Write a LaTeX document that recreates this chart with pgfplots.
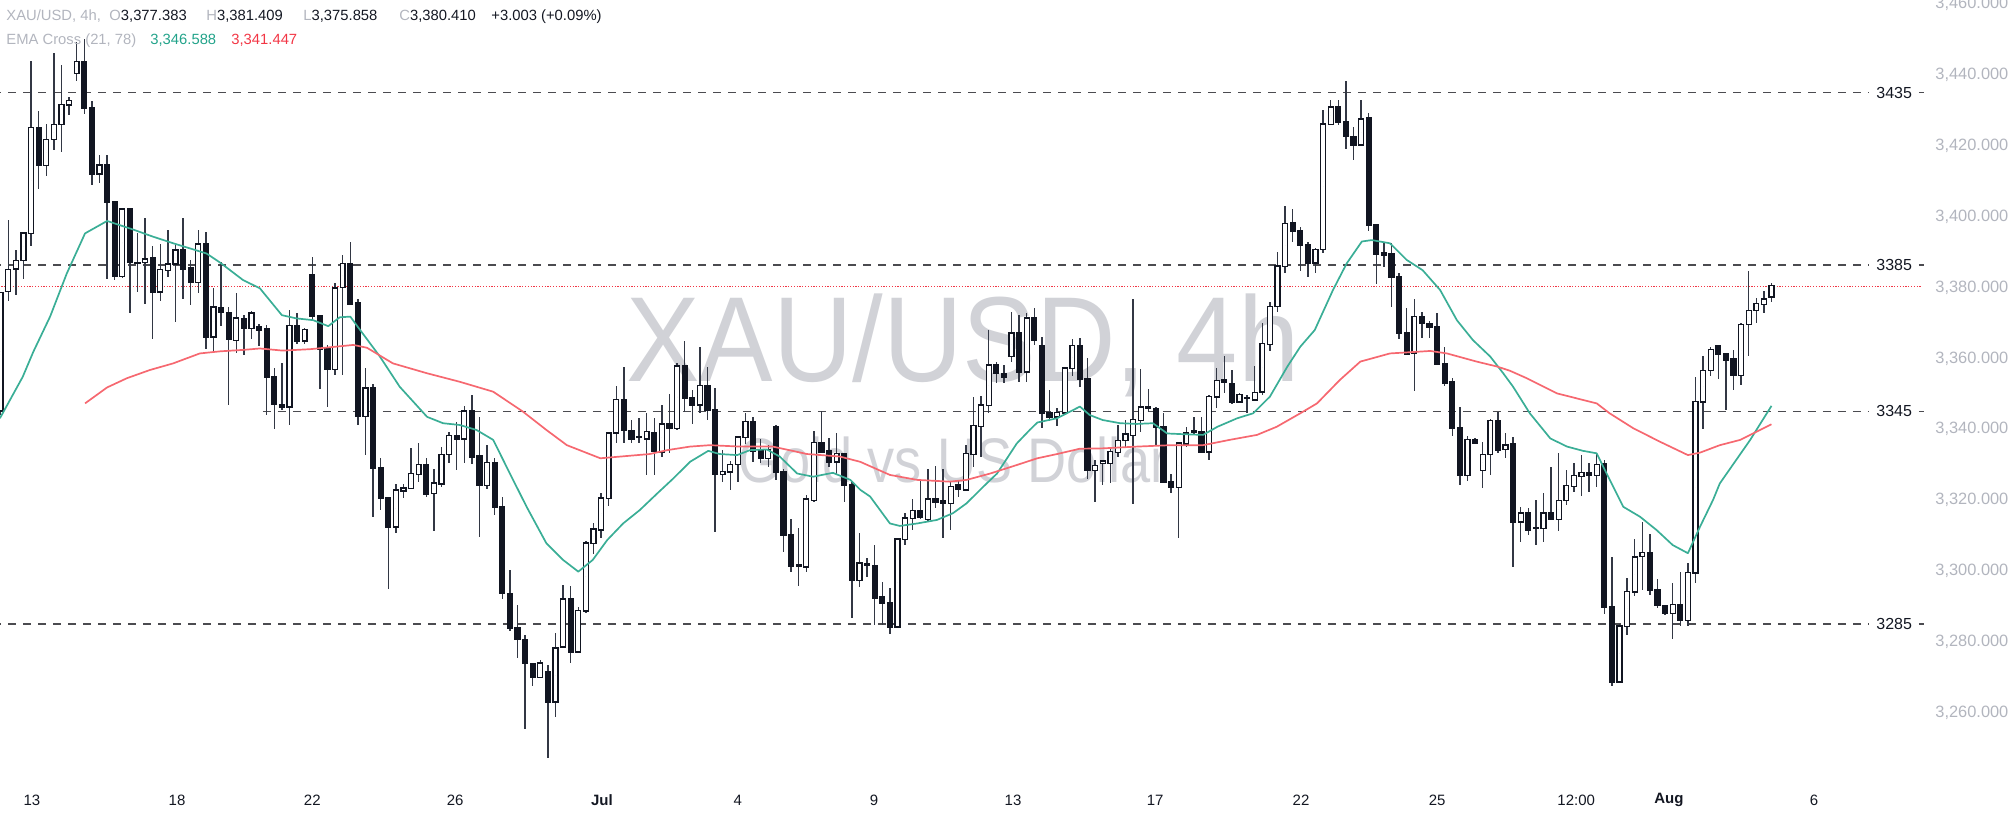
\documentclass[border=0pt]{standalone}
\usepackage{fontspec}
\setmainfont{Liberation Sans}
\usepackage{graphicx}
\usepackage{pgfplots}
\usepackage{pgfplotstable}
\pgfplotsset{compat=1.18}

\definecolor{body}{RGB}{17,21,33}
\definecolor{wick}{RGB}{50,55,68}
\definecolor{emagreen}{RGB}{58,174,150}
\definecolor{emared}{RGB}{246,104,112}
\definecolor{lg}{RGB}{178,181,190}
\definecolor{dk}{RGB}{19,23,34}
\definecolor{tealtxt}{RGB}{34,163,138}
\definecolor{redtxt}{RGB}{242,54,69}
\definecolor{wmark}{RGB}{209,210,215}
\definecolor{hline}{RGB}{75,75,80}

% 4h candles: index, open, high, low, close
\pgfplotstableread{
i o h l c
0 3345.2 3378.5 3344.0 3378.5
1 3379.0 3399.2 3376.1 3385.0
2 3385.4 3390.7 3377.9 3387.6
3 3387.8 3395.8 3382.4 3395.3
4 3395.4 3444.0 3391.7 3425.1
5 3425.1 3429.9 3407.9 3414.5
6 3414.5 3426.1 3411.4 3421.7
7 3421.9 3446.3 3418.9 3425.9
8 3426.1 3442.9 3418.4 3431.6
9 3431.7 3433.9 3428.6 3432.7
10 3440.6 3449.3 3438.2 3443.7
11 3443.8 3450.2 3428.9 3430.8
12 3430.8 3432.7 3409.0 3412.2
13 3412.2 3417.4 3409.5 3414.5
14 3414.7 3417.4 3382.3 3404.1
15 3404.1 3404.4 3382.1 3383.2
16 3383.2 3402.4 3382.7 3402.1
17 3402.3 3402.4 3372.9 3387.2
18 3386.9 3395.4 3378.7 3387.0
19 3387.2 3399.6 3375.5 3388.0
20 3388.2 3391.7 3365.5 3378.7
21 3378.8 3392.2 3376.1 3385.0
22 3385.0 3396.3 3383.0 3386.6
23 3386.7 3392.2 3370.3 3390.5
24 3390.5 3399.6 3376.8 3385.4
25 3385.4 3387.8 3375.0 3381.5
26 3381.5 3396.2 3378.5 3392.2
27 3392.2 3395.6 3362.6 3366.2
28 3366.2 3379.8 3361.9 3374.4
29 3374.3 3387.3 3369.1 3373.0
30 3372.9 3374.6 3346.8 3365.4
31 3365.2 3378.4 3361.6 3371.3
32 3371.1 3372.2 3361.0 3368.5
33 3368.5 3373.5 3365.4 3372.7
34 3368.8 3369.7 3363.5 3368.0
35 3368.2 3369.4 3344.0 3354.8
36 3354.8 3357.2 3340.0 3347.1
37 3346.8 3358.6 3345.4 3346.2
38 3346.4 3373.8 3341.2 3369.2
39 3369.0 3372.9 3364.1 3365.0
40 3365.0 3368.5 3364.1 3368.0
41 3383.5 3388.5 3370.7 3372.0
42 3372.0 3372.2 3351.3 3362.6
43 3362.6 3363.8 3346.4 3356.9
44 3356.9 3381.4 3355.3 3379.8
45 3380.1 3389.2 3355.3 3386.7
46 3386.7 3393.0 3375.1 3375.5
47 3375.7 3376.7 3341.2 3343.7
48 3343.7 3357.2 3332.7 3351.6
49 3351.6 3352.8 3315.3 3329.0
50 3329.0 3331.8 3317.2 3320.5
51 3320.5 3320.5 3294.8 3312.5
52 3312.5 3324.5 3310.6 3322.7
53 3322.7 3324.5 3320.5 3323.3
54 3323.3 3334.6 3323.3 3327.4
55 3327.4 3336.2 3325.2 3329.9
56 3329.9 3331.8 3320.8 3321.7
57 3321.9 3328.7 3311.4 3324.7
58 3324.7 3335.1 3323.6 3332.7
59 3333.0 3339.3 3330.6 3338.1
60 3338.1 3342.1 3328.5 3337.4
61 3337.4 3346.6 3330.4 3345.1
62 3345.1 3349.7 3330.2 3332.3
63 3332.3 3343.4 3309.5 3324.3
64 3324.3 3335.5 3323.0 3330.6
65 3330.6 3331.8 3315.8 3318.1
66 3318.0 3321.0 3292.0 3293.7
67 3293.5 3300.3 3282.9 3283.8
68 3283.8 3290.4 3275.3 3280.7
69 3280.5 3281.9 3255.3 3273.9
70 3273.7 3273.9 3267.5 3270.0
71 3270.0 3274.9 3269.7 3273.9
72 3271.5 3273.4 3247.1 3263.1
73 3263.1 3282.4 3258.7 3278.1
74 3278.6 3296.0 3278.1 3292.0
75 3292.0 3295.7 3273.9 3277.2
76 3277.2 3289.9 3277.2 3288.8
77 3288.8 3308.5 3288.2 3307.8
78 3307.8 3313.6 3304.8 3311.7
79 3311.7 3321.9 3309.2 3320.5
80 3320.5 3339.3 3318.3 3338.8
81 3339.0 3352.2 3336.2 3348.3
82 3348.3 3357.5 3336.2 3339.8
83 3339.5 3342.6 3336.2 3337.4
84 3337.7 3343.1 3336.2 3337.7
85 3337.4 3344.5 3327.0 3339.3
86 3339.0 3343.1 3327.1 3333.9
87 3333.7 3346.9 3332.3 3341.4
88 3341.4 3350.1 3333.2 3340.5
89 3340.3 3358.8 3339.8 3357.7
90 3357.7 3365.0 3345.0 3348.7
91 3348.7 3351.1 3341.5 3346.9
92 3346.9 3363.1 3344.5 3352.2
93 3352.2 3357.7 3342.6 3345.4
94 3345.3 3351.6 3311.1 3327.4
95 3327.4 3334.1 3325.2 3328.0
96 3328.0 3331.1 3322.9 3329.9
97 3330.2 3338.1 3325.2 3337.7
98 3337.7 3344.5 3335.8 3342.1
99 3342.1 3343.4 3330.9 3333.9
100 3333.9 3337.2 3330.4 3331.8
101 3331.8 3335.5 3329.4 3334.1
102 3340.7 3341.2 3325.7 3328.0
103 3328.0 3328.7 3305.4 3310.2
104 3310.2 3314.6 3299.8 3301.4
105 3301.6 3312.0 3295.7 3301.4
106 3301.2 3321.4 3299.8 3320.2
107 3320.0 3339.6 3319.6 3336.2
108 3336.2 3345.3 3333.4 3333.7
109 3333.9 3337.4 3329.2 3330.8
110 3330.8 3338.8 3327.1 3333.0
111 3333.0 3333.4 3319.6 3324.3
112 3324.3 3325.2 3286.6 3297.4
113 3297.4 3310.6 3295.6 3302.1
114 3302.0 3303.6 3298.4 3301.8
115 3301.5 3307.3 3284.7 3292.5
116 3292.5 3297.0 3284.7 3291.0
117 3291.0 3295.1 3282.2 3284.1
118 3284.3 3309.2 3284.3 3308.9
119 3308.9 3316.3 3307.3 3314.9
120 3314.9 3320.2 3311.5 3317.0
121 3316.9 3325.7 3314.8 3315.1
122 3314.6 3328.7 3313.9 3320.2
123 3320.2 3329.6 3317.7 3319.5
124 3319.8 3328.7 3309.2 3319.1
125 3319.1 3325.2 3311.6 3323.8
126 3324.1 3325.7 3321.0 3323.1
127 3323.0 3335.6 3322.7 3333.0
128 3333.0 3349.0 3329.3 3340.9
129 3340.9 3349.4 3332.1 3346.8
130 3346.8 3368.0 3344.5 3358.0
131 3358.0 3359.1 3353.1 3355.8
132 3355.6 3358.1 3353.0 3354.7
133 3360.7 3373.2 3359.1 3367.1
134 3367.1 3372.3 3353.4 3356.3
135 3356.3 3372.7 3353.4 3371.3
136 3371.3 3374.1 3363.8 3365.2
137 3363.5 3366.0 3340.3 3344.5
138 3344.5 3351.1 3342.4 3343.4
139 3343.6 3345.9 3340.9 3344.7
140 3344.7 3357.7 3344.0 3357.2
141 3357.2 3365.4 3355.0 3363.5
142 3363.5 3365.7 3352.0 3354.1
143 3354.1 3360.0 3326.0 3328.5
144 3328.5 3331.3 3319.6 3329.6
145 3330.4 3331.4 3324.3 3330.9
146 3330.4 3334.6 3324.7 3333.6
147 3333.6 3341.2 3332.2 3336.8
148 3336.9 3342.6 3335.1 3338.6
149 3338.4 3376.9 3318.9 3342.6
150 3342.6 3356.9 3339.3 3346.2
151 3346.2 3351.5 3345.0 3345.9
152 3345.7 3346.4 3335.5 3340.7
153 3340.7 3344.7 3324.9 3325.2
154 3325.2 3327.5 3321.9 3323.6
155 3323.6 3336.5 3309.2 3336.0
156 3336.0 3340.7 3335.1 3338.8
157 3339.6 3343.5 3338.8 3339.2
158 3339.3 3343.5 3333.2 3333.7
159 3333.7 3349.7 3331.3 3349.2
160 3349.2 3357.2 3345.9 3353.7
161 3353.9 3360.7 3350.3 3353.3
162 3352.8 3356.7 3347.1 3347.8
163 3347.8 3350.1 3347.3 3349.7
164 3348.7 3349.7 3344.7 3348.7
165 3348.4 3357.8 3348.2 3350.3
166 3350.6 3369.9 3349.7 3364.1
167 3364.1 3376.0 3362.2 3374.6
168 3374.8 3390.0 3373.0 3386.0
169 3386.0 3403.0 3384.0 3398.0
170 3398.1 3402.1 3392.9 3396.1
171 3396.1 3397.2 3384.8 3392.0
172 3392.0 3393.0 3383.1 3387.0
173 3387.0 3391.1 3384.0 3390.6
174 3390.8 3430.1 3389.7 3426.1
175 3426.2 3433.0 3425.9 3430.9
176 3430.9 3433.0 3425.9 3426.8
177 3426.8 3438.4 3419.0 3422.8
178 3422.4 3425.4 3416.0 3420.3
179 3420.3 3433.1 3420.0 3427.5
180 3427.8 3429.4 3396.0 3397.7
181 3397.7 3397.7 3381.0 3389.5
182 3389.7 3392.5 3385.7 3389.2
183 3389.5 3392.7 3374.4 3383.1
184 3383.1 3384.0 3365.4 3367.1
185 3367.1 3374.1 3361.0 3361.4
186 3361.6 3376.9 3350.9 3371.8
187 3371.8 3373.2 3365.7 3369.9
188 3369.7 3370.6 3365.7 3368.8
189 3368.9 3372.7 3358.1 3358.4
190 3358.4 3363.1 3352.2 3353.2
191 3353.4 3354.4 3338.1 3340.3
192 3340.3 3346.4 3324.3 3327.1
193 3327.1 3338.1 3325.5 3337.0
194 3337.0 3337.4 3336.0 3336.2
195 3328.5 3336.5 3323.3 3332.7
196 3333.0 3342.8 3327.1 3342.4
197 3342.4 3344.9 3333.2 3334.1
198 3334.3 3338.8 3331.8 3335.5
199 3335.8 3337.7 3301.2 3313.9
200 3313.9 3318.1 3308.3 3316.3
201 3316.3 3317.7 3310.1 3311.7
202 3312.0 3320.0 3307.3 3312.0
203 3312.0 3321.9 3308.3 3316.3
204 3316.3 3329.2 3314.4 3314.6
205 3314.6 3333.4 3311.4 3319.8
206 3320.0 3328.5 3318.6 3324.0
207 3324.0 3330.6 3322.4 3326.8
208 3326.8 3332.7 3321.2 3327.7
209 3327.7 3330.6 3322.4 3327.1
210 3327.1 3333.2 3323.6 3329.9
211 3330.2 3331.3 3287.8 3289.7
212 3289.7 3304.0 3267.5 3268.7
213 3268.7 3285.0 3268.3 3284.4
214 3284.4 3297.9 3281.9 3294.1
215 3294.1 3308.9 3292.9 3303.8
216 3304.2 3313.9 3294.6 3305.1
217 3305.1 3310.4 3293.2 3294.6
218 3294.6 3297.6 3289.4 3290.4
219 3290.1 3290.4 3287.6 3288.0
220 3288.0 3296.5 3280.9 3290.4
221 3290.4 3299.8 3284.4 3286.1
222 3286.1 3302.3 3284.4 3299.5
223 3299.5 3354.8 3296.7 3347.8
224 3347.8 3360.7 3340.0 3356.5
225 3356.7 3363.1 3355.0 3362.4
226 3363.5 3363.8 3354.1 3361.4
227 3361.2 3361.4 3345.4 3359.5
228 3359.7 3362.4 3351.1 3355.3
229 3355.3 3370.1 3352.5 3369.4
230 3369.7 3384.8 3360.7 3373.5
231 3373.7 3377.0 3370.1 3375.4
232 3375.4 3379.1 3372.7 3376.7
233 3377.383 3381.409 3375.858 3380.410
}\candles

\newcommand\lfont{\fontsize{7.4bp}{9bp}\selectfont}

\begin{document}
\begin{tikzpicture}
\useasboundingbox (0,0) rectangle (1008bp,408bp);

% watermark (pixel coordinates, y downwards)
\begin{scope}[shift={(0,408bp)}, x=0.5bp, y=-0.5bp]
\node[anchor=base west, inner sep=0pt, text=wmark, font=\fontsize{60.5bp}{62bp}\selectfont] at (626,382) {\scalebox{0.91}[1]{XAU/USD, 4h}};
\node[anchor=base west, inner sep=0pt, text=wmark, font=\fontsize{31.5bp}{33bp}\selectfont] at (738,483) {\scalebox{0.86}[1]{Gold vs US Dollar}};
\end{scope}

\begin{axis}[
    at={(0,18bp)}, anchor=south west,
    scale only axis, width=962.5bp, height=390bp,
    xmin=-0.092, xmax=253.2,
    ymin=3240.97, ymax=3461.19,
    axis line style={draw=none},
    major tick length=0pt,
    xtick={4.1,23.2,41.0,59.8,79.1,97.0,114.9,133.2,151.9,171.1,189.0,207.3,219.5,238.6},
    xticklabels={13,18,22,26,\textbf{Jul},4,9,13,17,22,25,12:00,\textbf{Aug},6},
    xticklabel style={anchor=center, yshift=-10bp, text=dk, font=\fontsize{7.5bp}{9bp}\selectfont},
    ytick={3260,3280,...,3460},
    yticklabel pos=right,
    yticklabel style={anchor=west, inner sep=0pt, xshift=5bp, text=lg,
        font=\fontsize{8.2bp}{9bp}\selectfont,
        /pgf/number format/.cd, fixed, fixed zerofill, precision=3, 1000 sep={,}, assume math mode=true},
    candle/.style={only marks, mark=*, mark size=0pt, mark options={draw=none, fill=none}, forget plot,
        error bars/y dir=both, error bars/y explicit, error bars/error mark=none},
]

% horizontal levels
\addplot[hline, line width=0.7bp, dash pattern=on 4bp off 3.5bp] coordinates {(-1,3435) (245.8,3435)};
\addplot[hline, line width=0.7bp, dash pattern=on 4bp off 3.5bp] coordinates {(-1,3386.4) (245.8,3386.4)};
\addplot[hline, line width=0.7bp, dash pattern=on 4bp off 3.5bp] coordinates {(34.5,3345) (245.8,3345)};
\addplot[hline, line width=0.7bp, dash pattern=on 4bp off 3.5bp] coordinates {(-1,3285) (245.8,3285)};
\addplot[redtxt, line width=0.6bp, dash pattern=on 0.6bp off 0.8bp] coordinates {(-1,3380.41) (252.8,3380.41)};

% wicks
\addplot[candle, error bars/error bar style={line width=0.7bp, draw=wick, line cap=butt}]
    table[x=i, y expr={(\thisrow{h}+\thisrow{l})/2}, y error expr={(\thisrow{h}-\thisrow{l})/2}] {\candles};
% bodies
\addplot[candle, error bars/error bar style={line width=3.1bp, draw=body, line cap=butt}]
    table[x=i, y expr={(\thisrow{o}+\thisrow{c})/2}, y error expr={abs(\thisrow{c}-\thisrow{o})/2+0.3}] {\candles};
% hollow interiors of rising candles
\addplot[candle, error bars/error bar style={line width=1.8bp, draw=white, line cap=butt}]
    table[x=i, y expr={(\thisrow{o}+\thisrow{c})/2}, y error expr={max((\thisrow{c}-\thisrow{o})/2-0.1,0)}] {\candles};

% EMA 21
\addplot[emagreen, line width=0.85bp, line join=round] coordinates {
(-0.1,3343.1) (2.9,3354.8) (4.3,3361.9) (6.5,3371.8) (8.7,3384.0) (11.1,3395.3) (14.0,3398.8) (17.4,3396.4) (20.0,3394.4) (22.7,3392.5) (25.3,3390.8) (27.1,3389.6) (28.9,3387.0) (31.9,3382.1) (34.1,3379.8) (37.0,3372.2) (38.9,3371.3) (41.1,3370.8) (43.1,3369.1) (44.6,3371.6) (46.0,3371.8) (47.3,3368.0) (49.9,3360.5) (52.5,3352.0) (56.1,3343.5) (58.2,3341.7) (60.4,3341.2) (62.6,3339.8) (64.8,3337.0) (67.0,3327.5) (69.2,3318.1) (71.8,3307.8) (74.0,3303.1) (76.0,3299.8) (77.9,3303.1) (79.8,3308.7) (81.9,3313.4) (84.1,3317.2) (86.4,3321.9) (88.5,3326.1) (90.7,3330.8) (93.1,3333.9) (94.6,3333.0) (96.9,3332.7) (98.6,3334.1) (100.8,3334.3) (102.5,3332.3) (104.8,3327.5) (106.9,3326.6) (109.5,3327.7) (111.8,3325.7) (113.1,3322.9) (114.4,3321.0) (117.0,3313.4) (118.3,3312.7) (120.6,3313.4) (123.2,3314.4) (125.3,3316.3) (127.1,3319.1) (129.3,3323.8) (131.1,3327.5) (133.7,3336.0) (135.4,3339.8) (136.4,3341.9) (139.0,3343.1) (142.0,3346.4) (143.3,3344.0) (145.0,3342.6) (147.3,3341.7) (149.5,3341.5) (151.6,3341.7) (153.5,3338.8) (155.6,3338.6) (158.2,3338.4) (160.1,3340.7) (162.7,3343.1) (164.8,3344.5) (167.0,3349.2) (169.3,3357.7) (171.0,3363.3) (172.9,3368.0) (175.3,3379.3) (177.1,3386.8) (179.1,3393.0) (180.4,3393.4) (182.8,3392.5) (185.0,3387.8) (187.1,3384.9) (189.4,3379.3) (191.6,3370.8) (193.7,3365.2) (196.0,3360.5) (197.7,3355.8) (199.0,3352.0) (201.2,3344.5) (203.9,3337.4) (206.1,3335.1) (208.2,3333.9) (210.0,3333.2) (211.3,3327.5) (213.5,3318.1) (215.7,3315.3) (217.9,3311.5) (220.0,3307.3) (222.0,3305.0) (223.6,3312.5) (225.3,3320.0) (226.2,3324.7) (230.2,3337.0) (233.0,3346.6)
};
% EMA 78
\addplot[emared, line width=0.85bp, line join=round] coordinates {
(11.1,3347.3) (14.0,3351.8) (16.6,3354.4) (19.6,3356.7) (22.7,3358.6) (26.2,3361.4) (28.9,3362.0) (31.9,3362.4) (34.1,3362.8) (37.1,3362.2) (40.7,3362.6) (45.0,3363.5) (46.4,3363.8) (48.2,3363.0) (51.6,3358.6) (56.1,3355.8) (60.4,3353.4) (64.8,3350.6) (68.7,3345.0) (71.8,3339.8) (74.5,3335.5) (78.9,3331.8) (85.4,3333.0) (87.7,3334.1) (90.7,3335.1) (93.3,3335.5) (97.3,3335.1) (101.6,3335.1) (106.1,3333.0) (110.4,3332.3) (113.1,3330.8) (117.0,3327.1) (120.6,3325.7) (124.9,3325.2) (127.1,3325.7) (130.2,3327.5) (133.7,3329.9) (136.4,3331.8) (139.0,3333.0) (142.0,3334.5) (145.0,3334.6) (149.5,3335.1) (153.9,3335.5) (158.2,3335.5) (161.7,3337.0) (165.3,3338.4) (167.9,3340.7) (171.0,3344.5) (173.2,3347.3) (176.2,3353.9) (178.9,3359.1) (182.8,3361.4) (188.1,3362.1) (190.3,3361.4) (194.2,3359.1) (196.9,3357.7) (198.6,3356.5) (200.8,3354.4) (204.8,3350.1) (210.0,3347.3) (211.7,3344.5) (214.8,3340.3) (218.3,3336.5) (222.0,3332.7) (223.6,3333.4) (226.2,3335.5) (228.9,3337.0) (233.0,3341.4)
};
\end{axis}

\begin{scope}[shift={(0,408bp)}, x=0.5bp, y=-0.5bp]
% level labels
\foreach \yy/\txt in {92.8/3435, 264.9/3385, 411.5/3345, 624.0/3285} {
  \node[anchor=west, inner sep=0pt, text=dk, font=\fontsize{8bp}{9.6bp}\selectfont] at (1876,\yy) {\txt};
  \draw[hline, line width=0.7bp] (1919,\yy) -- (1924,\yy);
}
% legend
\node[anchor=base west, inner sep=0pt, text=lg, font=\lfont] at (6,21) {XAU/USD, 4h,};
\node[anchor=base west, inner sep=0pt, text=dk, font=\lfont] at (109,21) {\textcolor{lg}{O}3,377.383};
\node[anchor=base west, inner sep=0pt, text=dk, font=\lfont] at (206,21) {\textcolor{lg}{H}3,381.409};
\node[anchor=base west, inner sep=0pt, text=dk, font=\lfont] at (303,21) {\textcolor{lg}{L}3,375.858};
\node[anchor=base west, inner sep=0pt, text=dk, font=\lfont] at (399,21) {\textcolor{lg}{C}3,380.410};
\node[anchor=base west, inner sep=0pt, text=dk, font=\lfont] at (491,21) {+3.003 (+0.09\%)};
\node[anchor=base west, inner sep=0pt, text=lg, font=\lfont] at (6,44.5) {EMA Cross (21, 78)};
\node[anchor=base west, inner sep=0pt, text=tealtxt, font=\lfont] at (150,44.5) {3,346.588};
\node[anchor=base west, inner sep=0pt, text=redtxt, font=\lfont] at (231,44.5) {3,341.447};
\end{scope}
\end{tikzpicture}
\end{document}
